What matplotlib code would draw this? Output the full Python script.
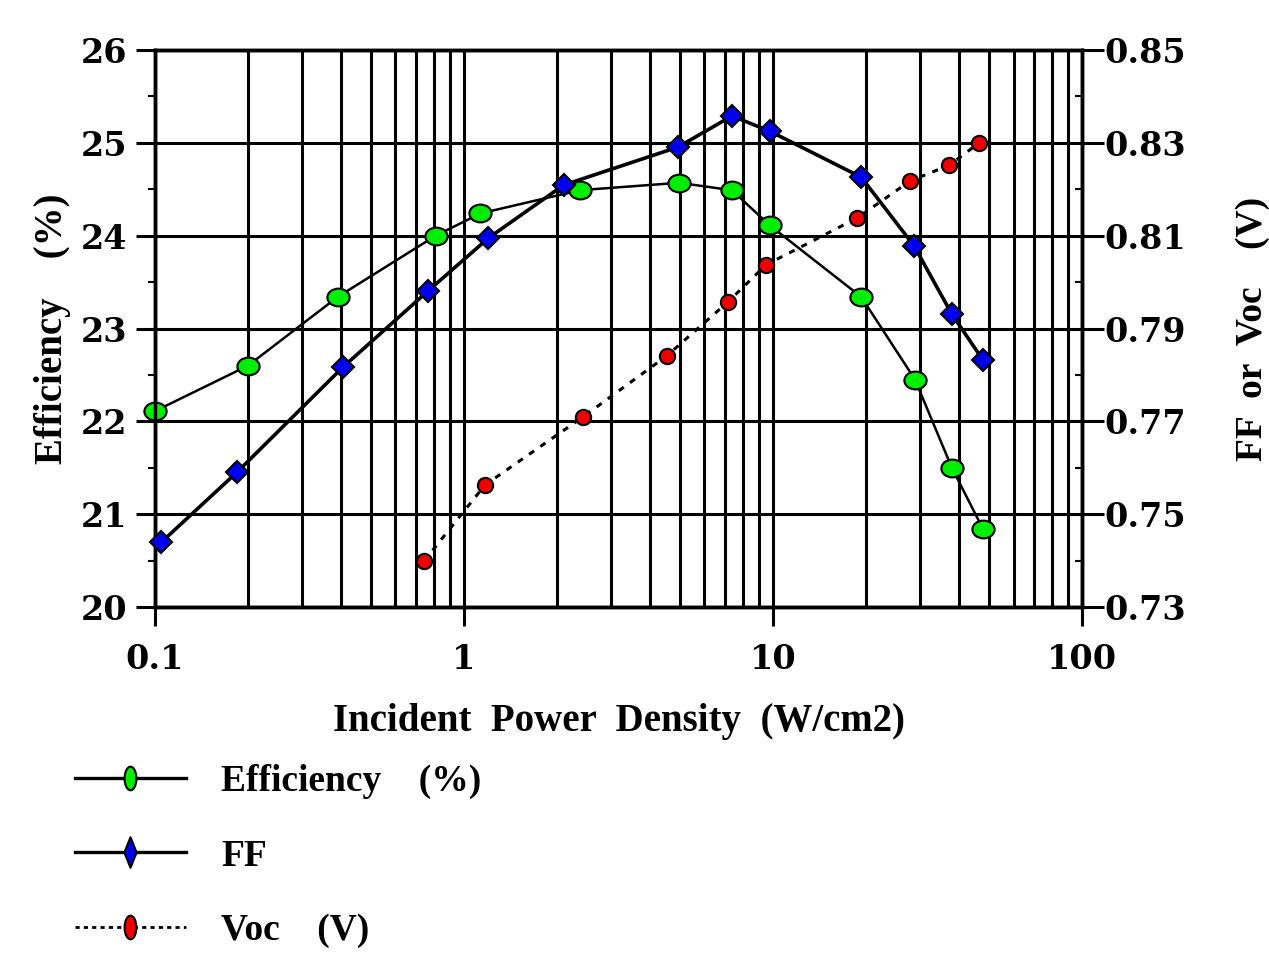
import numpy as np
import matplotlib
matplotlib.use("Agg")
import matplotlib.pyplot as plt
from matplotlib.path import Path
from matplotlib.lines import Line2D
from matplotlib.ticker import LogLocator, NullFormatter, MultipleLocator

plt.rcParams['font.family'] = ['Liberation Serif', 'DejaVu Serif']
plt.rcParams['font.weight'] = 'bold'

# data
eff_x = [0.1, 0.2, 0.39, 0.81, 1.13, 2.37, 4.96, 7.36, 9.77, 19.3, 28.8, 37.9, 47.8]
eff_y = [22.11, 22.60, 23.34, 24.00, 24.24, 24.49, 24.57, 24.49, 24.11, 23.34, 22.45, 21.50, 20.84]

ff_x = [0.105, 0.184, 0.406, 0.765, 1.2, 2.1, 4.93, 7.36, 9.77, 19.3, 28.6, 37.9, 47.8]
ff_y = [0.744, 0.759, 0.7817, 0.7981, 0.8095, 0.8209, 0.8291, 0.8358, 0.8325, 0.8226, 0.8078, 0.7931, 0.7832]

voc_x = [0.742, 1.17, 2.42, 4.53, 7.14, 9.48, 18.7, 27.8, 37.2, 46.4]
voc_y = [0.7399, 0.7563, 0.7709, 0.7841, 0.7957, 0.8037, 0.8138, 0.8218, 0.8252, 0.830]

left_ticks = [20, 21, 22, 23, 24, 25, 26]
right_ticks = [0.73, 0.75, 0.77, 0.79, 0.81, 0.83, 0.85]
x_ticks = [0.1, 1, 10, 100]
x_labels = ['0.1', '1', '10', '100']

tick_font = {'family': 'DejaVu Serif', 'weight': 'bold', 'size': 24}

# marker shapes: flat ellipse for plot, tall shapes for legend
circ = Path.unit_circle()
ell_flat = Path(circ.vertices * [1, 0.8], circ.codes)
ell_tall = Path(circ.vertices * [0.5, 1], circ.codes)
dia_tall = Path([(0, 1), (0.4, 0), (0, -1), (-0.4, 0), (0, 1)],
                [Path.MOVETO, Path.LINETO, Path.LINETO, Path.LINETO, Path.CLOSEPOLY])

fig = plt.figure(figsize=(12.69, 9.64), dpi=100)
ax = fig.add_axes([0.1221, 0.3703, 0.7306, 0.5778])
ax2 = ax.twinx()

ax.set_xscale('log')
ax.set_xlim(0.1, 100)
ax.set_ylim(20, 26)
ax2.set_ylim(0.73, 0.85)

ax.xaxis.set_major_locator(LogLocator(base=10))
ax.xaxis.set_minor_locator(LogLocator(base=10, subs=np.arange(2, 10)))
ax.xaxis.set_minor_formatter(NullFormatter())
ax.set_xticks(x_ticks)
ax.set_xticklabels(x_labels, fontdict=tick_font)
ax.set_yticks(left_ticks)
ax.set_yticklabels([str(v) for v in left_ticks], fontdict=tick_font)
ax.yaxis.set_minor_locator(MultipleLocator(0.5))
ax2.set_yticks(right_ticks)
ax2.set_yticklabels(['%.2f' % v for v in right_ticks], fontdict=tick_font)
ax2.yaxis.set_minor_locator(MultipleLocator(0.01))

ax.grid(True, which='major', axis='both', color='black', lw=2.2)
ax.grid(True, which='minor', axis='x', color='black', lw=2.2)

ax.tick_params(axis='both', which='major', length=14, width=2.2, direction='out')
ax.tick_params(axis='x', which='major', pad=12)
ax.tick_params(axis='y', which='major', pad=6)
ax.tick_params(axis='x', which='minor', length=0)
ax.tick_params(axis='y', which='minor', length=5, width=1.5)
ax2.tick_params(axis='y', which='major', length=16, width=2.2, pad=0)
ax2.tick_params(axis='y', which='minor', length=5, width=1.5, direction='in')

for sp in list(ax.spines.values()) + list(ax2.spines.values()):
    sp.set_linewidth(2.5)

ax.plot(eff_x, eff_y, color='black', lw=1.8, marker=ell_flat, ms=16,
        mfc='#00ee00', mec='black', mew=1.5, zorder=5, clip_on=False)
ax2.plot(ff_x, ff_y, color='black', lw=2.6, marker='D', ms=11,
         mfc='#0000ee', mec='black', mew=1.5, zorder=5, clip_on=False)
ax2.plot(voc_x, voc_y, color='black', lw=2.2, ls=(0, (2, 2.5)), marker='o', ms=11,
         mfc='#ee0000', mec='black', mew=1.5, zorder=6, clip_on=False)

ax.set_xlabel('Incident  Power  Density  (W/cm2)', fontsize=28, fontweight='bold', labelpad=19)
ax.set_ylabel('Efficiency    (%)', fontsize=28, fontweight='bold', labelpad=7)
ax2.set_ylabel('FF  or  Voc    (V)', fontsize=27, fontweight='bold', labelpad=35)

handles = [
    Line2D([], [], color='black', lw=2.4, marker=ell_tall, ms=17, mfc='#00ee00', mec='black', mew=1.5),
    Line2D([], [], color='black', lw=2.4, marker=dia_tall, ms=22, mfc='#0000ee', mec='black', mew=1.5),
    Line2D([], [], color='black', lw=2, ls=(0, (1.5, 1.5)), marker=ell_tall, ms=17, mfc='#ee0000', mec='black', mew=1.5),
]
leg = fig.legend(handles, ['Efficiency    (%)', 'FF', 'Voc    (V)'], loc='upper left',
                 bbox_to_anchor=(75 / 1269, 1 - 764 / 964), frameon=False,
                 prop={'family': 'Liberation Serif', 'weight': 'bold', 'size': 27},
                 handlelength=2.95, handletextpad=0.95, labelspacing=1.05, borderpad=0,
                 borderaxespad=0)

fig.savefig('out.png', dpi=100)
